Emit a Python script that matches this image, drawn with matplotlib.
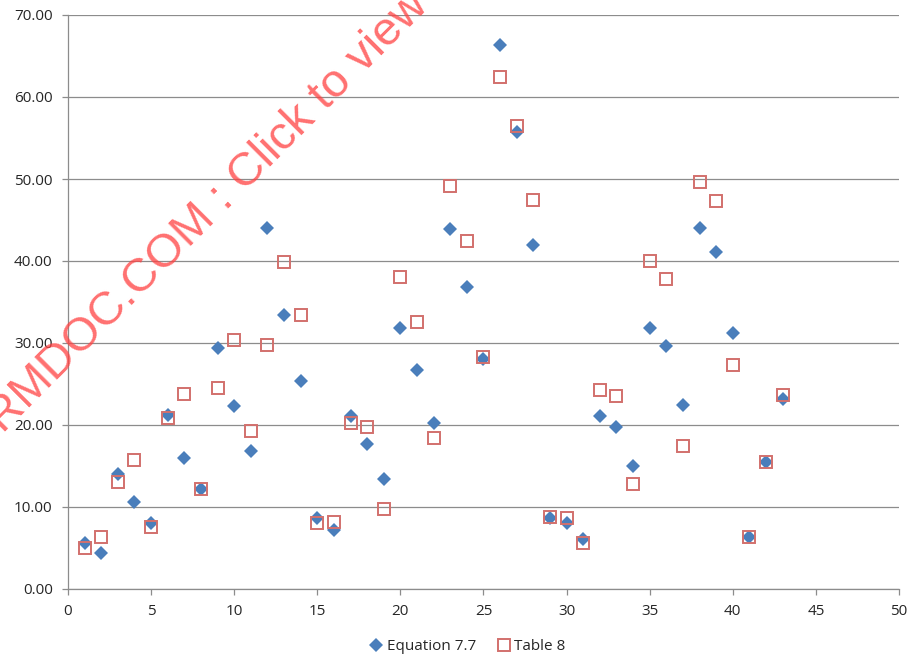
import matplotlib
matplotlib.use('Agg')
import matplotlib.pyplot as plt
from matplotlib.ticker import FormatStrFormatter, MultipleLocator

# case number 1..43
case_no = list(range(1, 44))

# values from Equation 7.7
eq77 = [5.6, 4.45, 14.0, 10.6, 8.1, 21.2, 16.0, 12.2, 29.4, 22.3,
        16.8, 44.0, 33.4, 25.4, 8.7, 7.2, 21.1, 17.7, 13.4, 31.8,
        26.7, 20.2, 43.9, 36.8, 28.0, 66.3, 55.7, 42.0, 8.7, 8.1,
        6.1, 21.1, 19.7, 15.0, 31.8, 29.6, 22.5, 44.0, 41.1, 31.2,
        6.3, 15.5, 23.2]

# values from Table 8
table8 = [5.0, 6.3, 13.0, 15.7, 7.55, 20.8, 23.8, 12.2, 24.5, 30.4,
          19.3, 29.8, 39.9, 33.4, 8.1, 8.2, 20.2, 19.8, 9.8, 38.1,
          32.6, 18.4, 49.2, 42.5, 28.3, 62.5, 56.5, 47.5, 8.8, 8.6,
          5.6, 24.3, 23.5, 12.8, 40.0, 37.8, 17.5, 49.6, 47.3, 27.3,
          6.3, 15.5, 23.7]

plt.rcParams['font.family'] = ['Open Sans', 'DejaVu Sans']

fig = plt.figure(figsize=(9.11, 6.59), dpi=100)
ax = fig.add_axes([68/911, 1 - 589/659, (899 - 68)/911, (589 - 15)/659])

gridcol = '#8c8c8c'
ax.set_xlim(0, 50)
ax.set_ylim(0, 70)
ax.xaxis.set_major_locator(MultipleLocator(5))
ax.yaxis.set_major_locator(MultipleLocator(10))
ax.yaxis.set_major_formatter(FormatStrFormatter('%.2f'))
ax.grid(axis='y', color=gridcol, linewidth=0.9)
ax.set_axisbelow(True)

for side in ['top', 'right']:
    ax.spines[side].set_visible(False)
for side in ['left', 'bottom']:
    ax.spines[side].set_color(gridcol)
    ax.spines[side].set_linewidth(0.9)

ax.tick_params(axis='both', color=gridcol, width=0.9, length=4,
               labelsize=11, labelcolor='#262626')
ax.tick_params(axis='y', pad=7)
ax.tick_params(axis='x', pad=7)

ax.plot(case_no, eq77, linestyle='none', marker='D', markersize=7,
        color='#4a7ebb', markeredgewidth=0, label='Equation 7.7', zorder=3)
ax.plot(case_no, table8, linestyle='none', marker='s', markersize=8,
        markerfacecolor='none', markeredgecolor='#d2706d',
        markeredgewidth=1.4, label='Table 8', zorder=4)

fig.legend(loc='center', bbox_to_anchor=(468/911, 1 - 647/659), ncol=2,
           frameon=False, fontsize=11, handlelength=0.8, handletextpad=0.3,
           columnspacing=1.4, labelcolor='#262626')

# site watermark across the plot
fig.text(208/911, 1 - 212/659, 'RMDOC.COM : Click to view',
         family='Liberation Sans', fontsize=34, color='#ff4040', alpha=0.75,
         rotation=45, rotation_mode='anchor', ha='center', va='center',
         zorder=10)

fig.savefig('out.png', dpi=100)
